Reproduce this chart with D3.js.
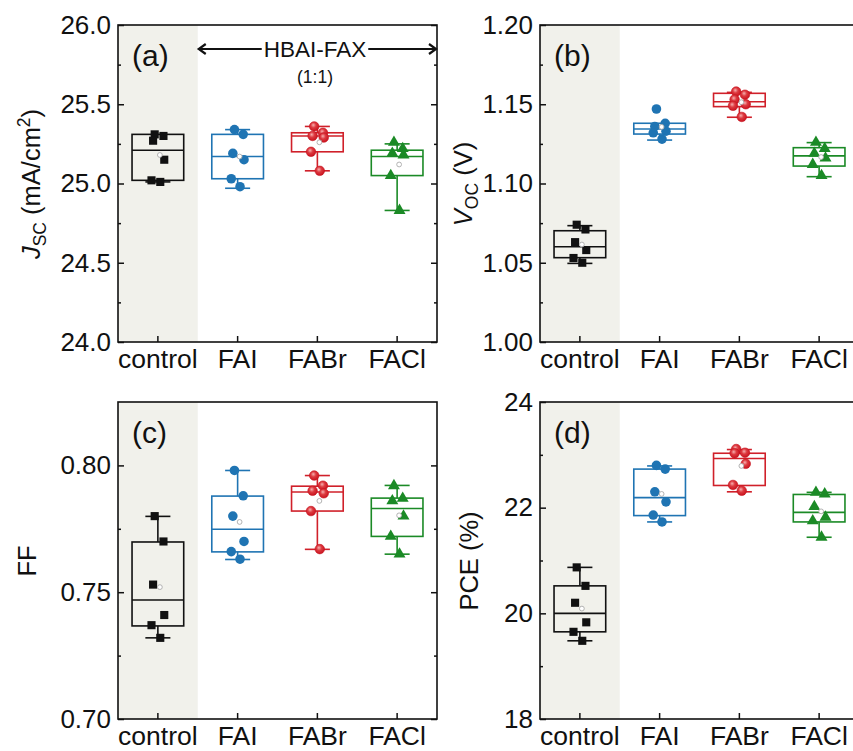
<!DOCTYPE html>
<html><head><meta charset="utf-8">
<script src="https://cdn.jsdelivr.net/npm/d3@7"></script>
<style>
body{margin:0;background:#fff}
svg{display:block}
text{font-family:"Liberation Sans",Arial,Helvetica,sans-serif;fill:#111}
</style>
</head><body>
<svg id="c" width="853" height="751"></svg>
<script>
// ---------------- DATA ----------------
const categories = ["control", "FAI", "FABr", "FACl"];

// Panel (a) J_SC (mA/cm2): individual devices per category
const jscPoints = [
  [25.31, 25.30, 25.27, 25.15, 25.02, 25.01],
  [25.34, 25.31, 25.19, 25.15, 25.03, 24.98],
  [25.36, 25.32, 25.30, 25.29, 25.20, 25.08],
  [25.26, 25.22, 25.19, 25.18, 25.05, 24.83]
];
// box stats per category: [whiskerLow, q1, median, q3, whiskerHigh, mean]
const jscBox = [
  [25.01, 25.02, 25.21, 25.31, 25.31, 25.18],
  [24.97, 25.03, 25.17, 25.31, 25.34, 25.17],
  [25.08, 25.20, 25.30, 25.32, 25.36, 25.26],
  [24.83, 25.05, 25.17, 25.21, 25.25, 25.12]
];
const jscDomain = [24.0, 26.0];
const jscTicks = [24.0, 24.5, 25.0, 25.5, 26.0];
const jscMinor = [24.25, 24.75, 25.25, 25.75];

// Panel (b) V_OC (V)
const vocPoints = [
  [1.074, 1.071, 1.063, 1.058, 1.053, 1.050],
  [1.147, 1.138, 1.136, 1.133, 1.132, 1.128],
  [1.158, 1.156, 1.153, 1.150, 1.149, 1.142],
  [1.126, 1.122, 1.119, 1.116, 1.112, 1.105]
];
const vocBox = [
  [1.0496, 1.0532, 1.0601, 1.0702, 1.0734, 1.0615],
  [1.1274, 1.1312, 1.1344, 1.1380, 1.1380, 1.1357],
  [1.1418, 1.1485, 1.1516, 1.1569, 1.1575, 1.1513],
  [1.1043, 1.1110, 1.1174, 1.1226, 1.1258, 1.1167]
];
const vocDomain = [1.00, 1.20];
const vocTicks = [1.00, 1.05, 1.10, 1.15, 1.20];
const vocMinor = [1.025, 1.075, 1.125, 1.175];

// Panel (c) FF
const ffPoints = [
  [0.780, 0.770, 0.753, 0.741, 0.737, 0.732],
  [0.798, 0.788, 0.780, 0.770, 0.766, 0.763],
  [0.796, 0.792, 0.790, 0.789, 0.782, 0.767],
  [0.792, 0.787, 0.786, 0.780, 0.772, 0.765]
];
const ffBox = [
  [0.7320, 0.7367, 0.7469, 0.7698, 0.7799, 0.7520],
  [0.7629, 0.7659, 0.7748, 0.7879, 0.7980, 0.7777],
  [0.7669, 0.7820, 0.7895, 0.7918, 0.7960, 0.7860],
  [0.7650, 0.7720, 0.7830, 0.7871, 0.7921, 0.7803]
];
const ffDomain = [0.70, 0.825];
const ffTicks = [0.70, 0.75, 0.80];
const ffMinor = [0.725, 0.775];

// Panel (d) PCE (%)
const pcePoints = [
  [20.87, 20.52, 20.20, 19.83, 19.65, 19.48],
  [22.80, 22.73, 22.30, 22.11, 21.86, 21.73],
  [23.11, 23.04, 23.03, 22.83, 22.43, 22.32],
  [22.29, 22.26, 22.02, 21.82, 21.75, 21.44]
];
const pceBox = [
  [19.48, 19.65, 20.00, 20.52, 20.87, 20.09],
  [21.73, 21.85, 22.19, 22.73, 22.79, 22.26],
  [22.30, 22.42, 22.93, 23.03, 23.10, 22.79],
  [21.44, 21.73, 21.91, 22.25, 22.29, 21.93]
];
const pceDomain = [18, 24];
const pceTicks = [18, 20, 22, 24];
const pceMinor = [19, 21, 23];

// ---------------- STYLE ----------------
const colors = ["#111111", "#1f74b3", "#d0202a", "#1b8a26"];
const shapes = [d3.symbolSquare, d3.symbolCircle, d3.symbolCircle, d3.symbolTriangle];
const shapeSize = [66, 72, 72, 62];
const jitterPattern = [-0.04, 0.07, -0.06, 0.08, -0.08, 0.03];
const W = 319, H = 317;
const FONT = '"Liberation Sans",Arial,sans-serif';

const svg = d3.select("#c");
const defs = svg.append("defs");
const grad = defs.append("radialGradient").attr("id", "redball")
  .attr("cx", "45%").attr("cy", "40%").attr("r", "60%").attr("fx", "40%").attr("fy", "35%");
grad.append("stop").attr("offset", "0%").attr("stop-color", "#f6b0b0");
grad.append("stop").attr("offset", "45%").attr("stop-color", "#dd3a40");
grad.append("stop").attr("offset", "100%").attr("stop-color", "#c8121e");

function drawPanel(p) {
  const g = svg.append("g").attr("transform", `translate(${p.left},${p.top})`);
  const x = d3.scaleBand().domain(categories).range([0, W]).padding(0);
  const y = d3.scaleLinear().domain(p.domain).range([H, 0]);
  const bw = x.bandwidth();

  g.append("rect").attr("x", 0).attr("y", 0).attr("width", bw).attr("height", H)
    .attr("fill", "#f1f1eb");

  // axes
  const left = g.append("g").call(d3.axisLeft(y).tickValues(p.ticks).tickFormat(p.fmt)
    .tickSize(-6).tickSizeOuter(0).tickPadding(7));
  left.selectAll("text").attr("font-size", 26).attr("font-family", FONT).attr("fill", "#111");
  g.append("g").call(d3.axisLeft(y).tickValues(p.minor).tickFormat("").tickSize(-3).tickSizeOuter(0));
  g.append("g").attr("transform", `translate(${W},0)`)
    .call(d3.axisRight(y).tickValues(p.ticks).tickFormat("").tickSize(-6).tickSizeOuter(0));
  g.append("g").attr("transform", `translate(${W},0)`)
    .call(d3.axisRight(y).tickValues(p.minor).tickFormat("").tickSize(-3).tickSizeOuter(0));
  const bottom = g.append("g").attr("transform", `translate(0,${H})`)
    .call(d3.axisBottom(x).tickSize(-6).tickSizeOuter(0).tickPadding(7));
  bottom.selectAll("text").attr("font-size", 26.5).attr("font-family", FONT).attr("fill", "#111");
  g.selectAll(".domain").remove();
  g.selectAll(".tick line").attr("stroke", "#111").attr("stroke-width", 1.5);

  // frame
  g.append("rect").attr("x", 0).attr("y", 0).attr("width", W).attr("height", H)
    .attr("fill", "none").attr("stroke", "#111").attr("stroke-width", 1.6);

  // boxes
  categories.forEach((c, i) => {
    const [lo, q1, med, q3, hi, mean] = p.box[i];
    const cx = x(c) + bw / 2;
    const hw = bw * 0.324, cw = bw * 0.157;
    const col = colors[i];
    const bg = g.append("g").attr("stroke", col).attr("stroke-width", 1.6).attr("fill", "none");
    bg.append("rect").attr("x", cx - hw).attr("y", y(q3)).attr("width", 2 * hw).attr("height", y(q1) - y(q3));
    bg.append("line").attr("x1", cx - hw).attr("x2", cx + hw).attr("y1", y(med)).attr("y2", y(med));
    if (hi > q3) {
      bg.append("line").attr("x1", cx).attr("x2", cx).attr("y1", y(q3)).attr("y2", y(hi));
      bg.append("line").attr("x1", cx - cw).attr("x2", cx + cw).attr("y1", y(hi)).attr("y2", y(hi));
    }
    if (lo < q1) {
      bg.append("line").attr("x1", cx).attr("x2", cx).attr("y1", y(q1)).attr("y2", y(lo));
      bg.append("line").attr("x1", cx - cw).attr("x2", cx + cw).attr("y1", y(lo)).attr("y2", y(lo));
    }
    // points
    const sym = d3.symbol().type(shapes[i]).size(shapeSize[i]);
    g.selectAll(null).data(p.pts[i]).enter().append("path")
      .attr("d", sym)
      .attr("transform", (v, j) => `translate(${cx + jitterPattern[j] * bw},${y(v)})`)
      .attr("fill", i === 2 ? "url(#redball)" : col)
      .attr("stroke", i === 2 ? "#c8121e" : "none").attr("stroke-width", 0.6);
    // mean
    g.append("circle").attr("cx", cx + 2).attr("cy", y(mean)).attr("r", 2.4)
      .attr("fill", "#fff").attr("stroke", "#aaa").attr("stroke-width", 0.9);
  });

  // panel tag
  g.append("text").attr("x", 14).attr("y", 41).attr("font-size", 30).text(p.tag);
  return {g, x, y};
}

const fmt1 = d3.format(".1f"), fmt2 = d3.format(".2f"), fmt0 = d3.format("d");
const pa = drawPanel({left: 118, top: 25, pts: jscPoints, box: jscBox, domain: jscDomain, ticks: jscTicks, minor: jscMinor, fmt: fmt1, tag: "(a)"});
drawPanel({left: 540, top: 25, pts: vocPoints, box: vocBox, domain: vocDomain, ticks: vocTicks, minor: vocMinor, fmt: fmt2, tag: "(b)"});
drawPanel({left: 118, top: 402, pts: ffPoints, box: ffBox, domain: ffDomain, ticks: ffTicks, minor: ffMinor, fmt: fmt2, tag: "(c)"});
drawPanel({left: 540, top: 402, pts: pcePoints, box: pceBox, domain: pceDomain, ticks: pceTicks, minor: pceMinor, fmt: fmt0, tag: "(d)"});

// Y axis titles
function yTitle(cx, cy, parts) {
  const t = svg.append("text").attr("transform", `translate(${cx},${cy}) rotate(-90)`)
    .attr("text-anchor", "middle").attr("dy", "0.35em").attr("font-size", 25.5);
  parts.forEach(pt => {
    const s = t.append("tspan").text(pt.t);
    if (pt.i) s.attr("font-style", "italic");
    if (pt.sub) s.attr("font-size", 17.5).attr("dy", 6);
    if (pt.sup) s.attr("font-size", 17.5).attr("dy", -10);
    if (pt.back) s.attr("dy", pt.back);
  });
}
yTitle(31, 184, [{t: "J", i: true}, {t: "SC", sub: true}, {t: " (mA/cm", back: -6}, {t: "2", sup: true}, {t: ")", back: 10}]);
yTitle(463, 184, [{t: "V", i: true}, {t: "OC", sub: true}, {t: " (V)", back: -6}]);
yTitle(27, 561, [{t: "FF"}]);
yTitle(469, 561, [{t: "PCE (%)"}]);

// HBAI-FAX annotation in panel (a)
const ay = 49;
const x0 = 118 + pa.x.bandwidth(), x1 = 118 + W;
const label = svg.append("text").attr("x", 315).attr("y", ay).attr("dy", "0.36em")
  .attr("text-anchor", "middle").attr("font-size", 22.5).text("HBAI-FAX");
const bb = label.node().getBBox();
svg.append("text").attr("x", 315).attr("y", 83).attr("text-anchor", "middle")
  .attr("font-size", 17.5).text("(1:1)");
const ar = svg.append("g").attr("stroke", "#111").attr("stroke-width", 1.8).attr("fill", "none");
ar.append("line").attr("x1", x0 + 1).attr("x2", bb.x - 2).attr("y1", ay).attr("y2", ay);
ar.append("line").attr("x1", bb.x + bb.width + 2).attr("x2", x1 - 1).attr("y1", ay).attr("y2", ay);
ar.append("path").attr("d", `M${x0 + 8},${ay - 5} L${x0 + 1},${ay} L${x0 + 8},${ay + 5}`).attr("stroke-width", 2.2);
ar.append("path").attr("d", `M${x1 - 8},${ay - 5} L${x1 - 1},${ay} L${x1 - 8},${ay + 5}`).attr("stroke-width", 2.2);
</script>
</body></html>
